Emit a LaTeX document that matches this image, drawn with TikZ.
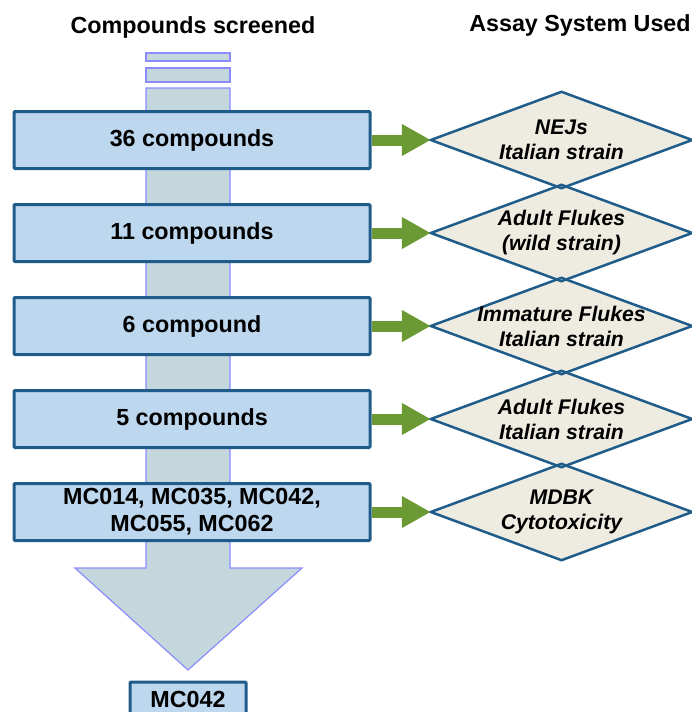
\documentclass[tikz,border=0pt]{standalone}
\usepackage{fontspec}
\setmainfont{Liberation Sans}
\usetikzlibrary{calc,shapes.geometric,arrows.meta}
\definecolor{boxfill}{HTML}{BDD7EE}
\definecolor{boxline}{HTML}{1F5C8A}
\definecolor{assayfill}{HTML}{EEECE1}
\definecolor{linkgreen}{HTML}{6B9A35}
\definecolor{flowfill}{HTML}{C3D7DD}
\definecolor{flowline}{HTML}{8C8CFF}
\def\levels{1,2,3,4,5}

\begin{document}
\begin{tikzpicture}[x=1pt,y=-1pt,
    cbox/.style={draw=boxline,line width=3pt,fill=boxfill,rounded corners=1pt,
                 minimum width=356pt,minimum height=57pt,align=center,
                 font=\bfseries\fontsize{23.3}{27}\selectfont},
    assay/.style={diamond,fill=assayfill,inner sep=0pt,
                  minimum width=261pt,minimum height=96pt},
    atext/.style={align=center,font=\bfseries\itshape\fontsize{21.2}{25}\selectfont},
    link/.style={line width=11pt,linkgreen,-{Triangle[length=29pt,width=30pt]}},
    head/.style={anchor=base,font=\bfseries\fontsize{23.3}{27}\selectfont}]
  \useasboundingbox (0,0) rectangle (692,712);

  \node[head] (h1) at (193,33) {Compounds screened};
  \node[head] (h2) at (580,31) {Assay System Used};

  % the big arrow behind the boxes
  \draw[flowline,fill=flowfill,line width=1.2pt] (146,53) rectangle (230,61);
  \draw[flowline,fill=flowfill,line width=1.2pt] (146,68) rectangle (230,82);
  \draw[flowline,fill=flowfill,line width=1.2pt]
    (146,88) -- (230,88) -- (230,568) -- (302,568) -- (188,670)
    -- (75,568) -- (146,568) -- cycle;

  % loop over the compound boxes
  \foreach \i/\txt in {1/36 compounds,2/11 compounds,3/6 compound,4/5 compounds,
                       5/{MC014, MC035, MC042,\\MC055, MC062}} {%\y=y-coord of the row
    \pgfmathsetmacro\y{140+93*(\i-1)}
    \node[cbox] (c\i) at (192,\y) {\txt};
  }
  \node[cbox,minimum width=116pt,minimum height=34pt] (fin) at (188,699) {MC042};

  % loop over the assay diamonds
  \foreach \i in \levels {
    \pgfmathsetmacro\y{140+93*(\i-1)}
    \node[assay] (a\i) at (561.5,\y) {};
  }
  \foreach \i in \levels {
    \draw[boxline,line width=2.5pt,line join=miter]
      (a\i.north) -- (a\i.east) -- (a\i.south) -- (a\i.west) -- cycle;
  }
  \foreach \i/\txt in {1/{NEJs\\Italian strain},2/{Adult Flukes\\(wild strain)},
                       3/{Immature Flukes\\Italian strain},4/{Adult Flukes\\Italian strain},
                       5/{MDBK\\Cytotoxicity}} {
    \node[atext] (t\i) at (a\i) {\txt};
  }

  % green arrows from the boxes to the assays
  \foreach \i in \levels {
    \draw[link] (c\i.east) -- (a\i.west);
  }
\end{tikzpicture}
\end{document}
